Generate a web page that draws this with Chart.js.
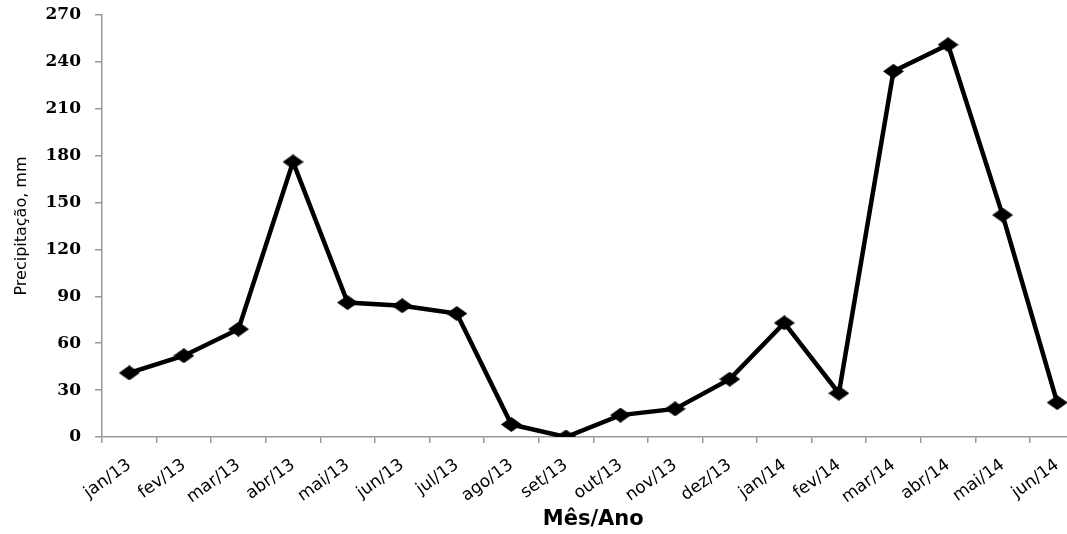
<!DOCTYPE html>
<html>
<head>
<meta charset="utf-8">
<script src="https://cdn.jsdelivr.net/npm/chart.js@4/dist/chart.umd.min.js"></script>
<style>
  html, body { margin: 0; padding: 0; background: #fff; overflow: hidden; }
  #wrap { width: 1093px; height: 534px; position: relative; }
</style>
</head>
<body>
<div id="wrap"><canvas id="chart"></canvas></div>
<script>
var meses = ["jan/13", "fev/13", "mar/13", "abr/13", "mai/13", "jun/13", "jul/13", "ago/13", "set/13",
    "out/13", "nov/13", "dez/13", "jan/14", "fev/14", "mar/14", "abr/14", "mai/14", "jun/14"];
var precipitacao = [41, 52, 69, 176, 86, 84, 79, 8, 0, 14, 18, 37, 73, 28, 234, 251, 142, 22];
var yMin = 0, yMax = 270, yStep = 30;

// losango um pouco achatado, como no original
var diamond = document.createElement('canvas');
diamond.width = 21;
diamond.height = 15;
var dctx = diamond.getContext('2d');
dctx.fillStyle = '#000';
dctx.beginPath();
dctx.moveTo(10.5, 0);
dctx.lineTo(21, 7.5);
dctx.lineTo(10.5, 15);
dctx.lineTo(0, 7.5);
dctx.closePath();
dctx.fill();

var ctx = document.getElementById('chart').getContext('2d');
var chart = new Chart(ctx, {
    type: 'line',
    data: {
        labels: meses,
        datasets: [{
            label: 'Precipitação',
            data: precipitacao,
            borderColor: '#000',
            backgroundColor: '#000',
            borderWidth: 4.5,
            pointStyle: diamond,
            tension: 0
        }]
    },
    options: {
        responsive: true,
        maintainAspectRatio: false,
        animation: false,
        layout: { padding: { left: 0, right: 2, top: 15, bottom: 0 } },
        plugins: { legend: { display: false }, tooltip: { enabled: false } },
        scales: {
            x: {
                type: 'category',
                offset: true,
                afterFit: function (scale) { scale.height = 97; },
                grid: { offset: true, drawOnChartArea: false, drawTicks: true, tickLength: 6, color: '#999', lineWidth: 1.5 },
                border: { display: true, color: '#999', width: 1.5 },
                ticks: {
                    color: '#000',
                    font: { family: 'DejaVu Sans', size: 17 },
                    minRotation: 36,
                    maxRotation: 36,
                    autoSkip: false,
                    padding: 12
                },
                title: {
                    display: true,
                    text: 'Mês/Ano',
                    color: '#000',
                    font: { family: 'DejaVu Sans', size: 21, weight: 'bold' },
                    padding: { top: 0, bottom: 2 }
                }
            },
            y: {
                min: yMin,
                max: yMax,
                afterFit: function (scale) {
                    scale.width = 102;
                    // o padding dos ticks não deve empurrar o topo do gráfico
                    scale.paddingTop = 0;
                    scale.paddingBottom = 0;
                },
                grid: { drawOnChartArea: false, drawTicks: true, tickLength: 7, color: '#999', lineWidth: 1.5 },
                border: { display: true, color: '#999', width: 1.5 },
                ticks: {
                    stepSize: yStep,
                    color: '#000',
                    font: { family: 'DejaVu Serif', size: 17, weight: 'bold' },
                    padding: 14
                },
                title: {
                    display: true,
                    text: 'Precipitação, mm',
                    color: '#000',
                    font: { family: 'DejaVu Sans', size: 16 },
                    padding: { top: 12, bottom: 0 }
                }
            }
        }
    }
});
</script>
</body>
</html>
